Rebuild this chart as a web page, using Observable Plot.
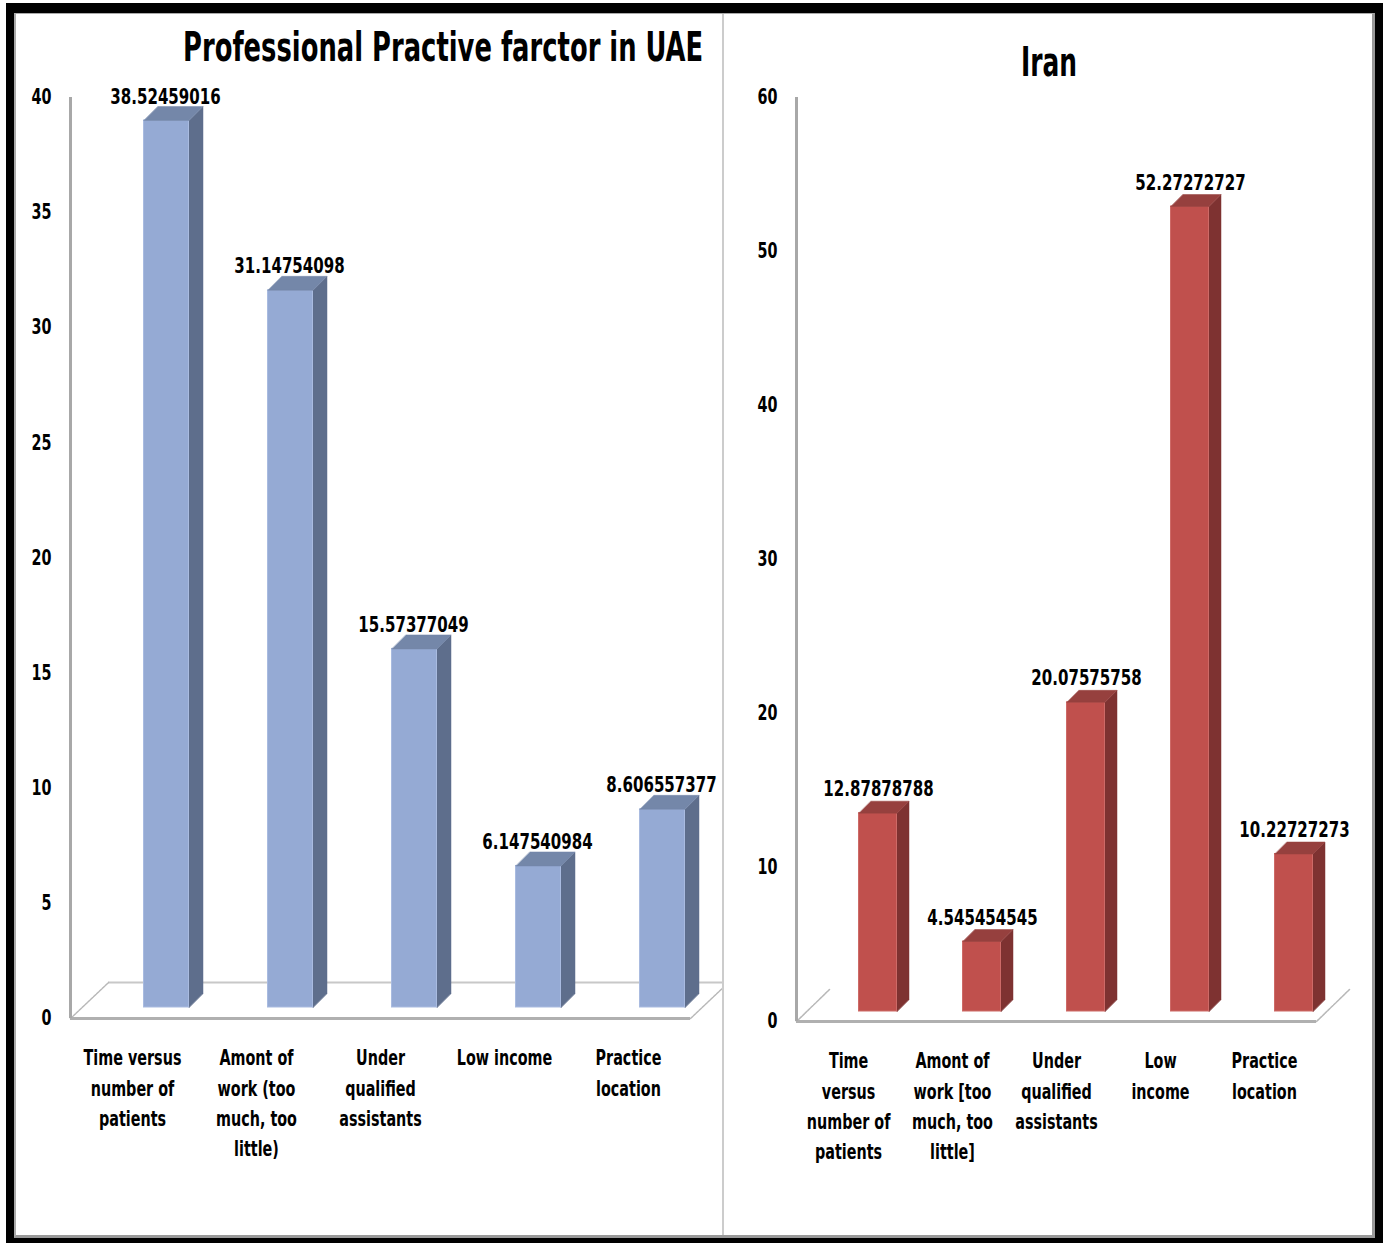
<!DOCTYPE html>
<html><head><meta charset="utf-8">
<script src="https://cdn.jsdelivr.net/npm/d3@7"></script>
<script src="https://cdn.jsdelivr.net/npm/@observablehq/plot@0.6"></script>
<style>
body{margin:0;background:#fff;width:1385px;height:1243px;position:relative;overflow:hidden;
 font-family:"Liberation Sans Narrow","Arial Narrow","DejaVu Sans Condensed",sans-serif;color:#000;}
#frame{position:absolute;left:6px;top:3px;width:1377px;height:1245px;box-sizing:border-box;
 border-left:8px solid #000;border-top:10px solid #000;border-right:8px solid #000;border-bottom:10px solid #000;}
#inner{position:absolute;left:14px;top:13px;width:1361px;height:1225px;box-sizing:border-box;
 border-left:2px solid #aaa;border-top:1px solid #aaa;border-right:3px solid #999;border-bottom:3px solid #999;}
#divider{position:absolute;left:722px;top:14px;width:2px;height:1221px;background:#cccccc;}
.panel{position:absolute;top:14px;height:1221px;overflow:hidden;}
.title{position:absolute;font-weight:bold;font-size:40px;white-space:nowrap;line-height:1;transform-origin:0 0;}
.chart{position:absolute;left:0;top:66px;}
</style></head><body>
<div id="frame"></div>
<div id="inner"></div>
<div class="panel" id="p1" style="left:16px;width:706px;">
  <div class="title" id="t1">Professional Practive farctor in UAE</div>
  <div class="chart" id="c1"></div>
</div>
<div class="panel" id="p2" style="left:724px;width:648px;">
  <div class="title" id="t2">Iran</div>
  <div class="chart" id="c2"></div>
</div>
<div id="divider"></div>
<script>
// ---- data ----
const categoriesUAE = [
  "Time versus\nnumber of\npatients",
  "Amont of\nwork (too\nmuch, too\nlittle)",
  "Under\nqualified\nassistants",
  "Low income",
  "Practice\nlocation"
];
const valuesUAE = [38.52459016, 31.14754098, 15.57377049, 6.147540984, 8.606557377];
const ticksUAE = [0, 5, 10, 15, 20, 25, 30, 35, 40];

const categoriesIran = [
  "Time\nversus\nnumber of\npatients",
  "Amont of\nwork [too\nmuch, too\nlittle]",
  "Under\nqualified\nassistants",
  "Low\nincome",
  "Practice\nlocation"
];
const valuesIran = [12.87878788, 4.545454545, 20.07575758, 52.27272727, 10.22727273];
const ticksIran = [0, 10, 20, 30, 40, 50, 60];

const FONT = '"Liberation Sans Narrow","Arial Narrow","DejaVu Sans Condensed",sans-serif';

function chart(cfg) {
  const {cats, vals, ticks, yMax, width, height, mL, mR, mT, mB, barDx, barDy, halfW, depth,
         colors, floorDepth, backEdge, labelDx, labelDy, tickPadding} = cfg;
  const n = cats.length;
  const kx = (width - mL - mR) / n;
  const ky = (height - mT - mB) / yMax;
  const hw = halfW / kx, ddx = depth / kx, ddy = depth / ky;
  const rows = cats.map((c, i) => ({i, cat: c, v: vals[i]}));
  const side = rows.flatMap(d => [
    {id: d.i, x: d.i + hw, y: 0}, {id: d.i, x: d.i + hw, y: d.v},
    {id: d.i, x: d.i + hw + ddx, y: d.v + ddy}, {id: d.i, x: d.i + hw + ddx, y: ddy}]);
  const topF = rows.flatMap(d => [
    {id: d.i, x: d.i - hw, y: d.v}, {id: d.i, x: d.i + hw, y: d.v},
    {id: d.i, x: d.i + hw + ddx, y: d.v + ddy}, {id: d.i, x: d.i - hw + ddx, y: d.v + ddy}]);
  const fdx = floorDepth[0] / kx, fdy = floorDepth[1] / ky;
  const x0 = -0.5, x1 = n - 0.5;
  const diag = [
    {id: 0, x: x0, y: 0}, {id: 0, x: x0 + fdx, y: fdy},
    {id: 1, x: x1, y: 0}, {id: 1, x: x1 + fdx, y: fdy}];
  const marks = [];
  if (backEdge) marks.push(Plot.ruleY([0], {dx: floorDepth[0], dy: -floorDepth[1], stroke: "#c8c8c8", strokeWidth: 2}));
  marks.push(
    Plot.line(diag, {x: "x", y: "y", z: "id", stroke: "#b8b8b8", strokeWidth: 1.5, strokeDasharray: "3,1"}),
    Plot.ruleY([0], {stroke: "#b0b0b0", strokeWidth: 3}),
    Plot.ruleX([-0.5], {stroke: "#a8a8a8", strokeWidth: 3}),
    Plot.axisY({ticks, tickSize: 0, tickPadding, label: null, fontSize: 21, fontWeight: "bold", tickFormat: d => String(d)}),
    Plot.line(side, {x: "x", y: "y", z: "id", fill: colors.side, stroke: colors.side, strokeWidth: 0.5, curve: "linear-closed", dx: barDx, dy: barDy}),
    Plot.rect(rows, {x1: d => d.i - hw, x2: d => d.i + hw, y1: d => 0, y2: "v", fill: colors.front, stroke: colors.edge, strokeWidth: 1, dx: barDx, dy: barDy}),
    Plot.line(topF, {x: "x", y: "y", z: "id", fill: colors.top, stroke: colors.top, strokeWidth: 0.5, curve: "linear-closed", dx: barDx, dy: barDy}),
    Plot.text(rows, {x: "i", y: "v", text: d => String(d.v), dx: labelDx, dy: labelDy, fontSize: 22, fontWeight: "bold", fill: "#000"}),
    Plot.text(rows, {x: "i", y: d => 0, text: "cat", dy: 25, lineAnchor: "top", lineHeight: 1.45, fontSize: 21, fontWeight: "bold", fill: "#000"})
  );
  return Plot.plot({
    width, height, marginLeft: mL, marginRight: mR, marginTop: mT, marginBottom: mB,
    x: {type: "linear", domain: [x0, x1], axis: null},
    y: {domain: [0, yMax], axis: null},
    style: {fontFamily: FONT, fontWeight: "bold", background: "transparent", overflow: "visible", color: "#000"},
    marks
  });
}

// condense SVG text horizontally about its anchor (emulates the narrow bold face of the original)
function condense(svg, factor) {
  svg.querySelectorAll("text").forEach(t => {
    const b = t.getBBox();
    const anchor = getComputedStyle(t).textAnchor || "start";
    const ax = anchor === "middle" ? b.x + b.width / 2 : anchor === "end" ? b.x + b.width : b.x;
    const tr = t.getAttribute("transform") || "";
    t.setAttribute("transform", (tr + ` translate(${ax},0) scale(${factor},1) translate(${-ax},0)`).trim());
  });
}

function placeTitle(el, cx, cy, targetW) {
  const w = el.offsetWidth, h = el.offsetHeight;
  el.style.left = (cx - targetW / 2) + "px";
  el.style.top = (cy - h / 2) + "px";
  el.style.transform = `scale(${targetW / w},1)`;
}

const svg1 = chart({
  cats: categoriesUAE, vals: valuesUAE, ticks: ticksUAE, yMax: 40,
  width: 706, height: 1100, mL: 54, mR: 32, mT: 17, mB: 162,
  barDx: 34, barDy: -11, halfW: 22.5, depth: 14,
  colors: {front: "#95aad4", top: "#7487a9", side: "#5e6e8c", edge: "#a9bbe0"},
  floorDepth: [38, 36], backEdge: true, labelDx: 33, labelDy: -35, tickPadding: 19
});
document.getElementById("c1").append(svg1);
condense(svg1, 0.76);

const svg2 = chart({
  cats: categoriesIran, vals: valuesIran, ticks: ticksIran, yMax: 60,
  width: 648, height: 1100, mL: 72, mR: 56, mT: 17, mB: 159,
  barDx: 29.5, barDy: -10, halfW: 19, depth: 12,
  colors: {front: "#c0504d", top: "#96403e", side: "#7e3231", edge: "#cd6a67"},
  floorDepth: [33, 32], backEdge: false, labelDx: 30, labelDy: -34, tickPadding: 19
});
document.getElementById("c2").append(svg2);
condense(svg2, 0.76);

placeTitle(document.getElementById("t1"), 427, 33, 520);
placeTitle(document.getElementById("t2"), 325, 48, 56);
</script>
</body></html>
